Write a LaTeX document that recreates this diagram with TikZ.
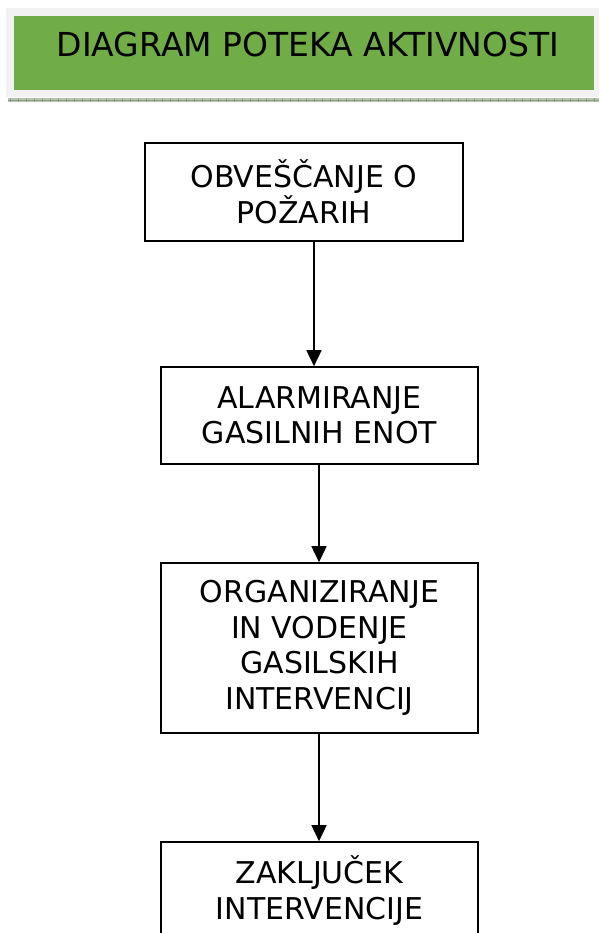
\documentclass[tikz,border=0pt]{standalone}
\usepackage{fontspec}
\setmainfont{DejaVu Sans}
\usetikzlibrary{arrows.meta}
\definecolor{hdrgreen}{HTML}{70AD47}
\definecolor{hdrgray}{HTML}{F2F2F2}
\definecolor{hatchbg}{HTML}{B7C4AE}
\definecolor{hatchtick}{HTML}{8E9C88}
\tikzset{
  stepbox/.style={draw=black, line width=1.6pt, fill=white, align=center,
    inner sep=0pt, font=\fontsize{30}{35.5}\selectfont},
  flowarrow/.style={draw=black, line width=1.6pt, -{Triangle[width=15pt,length=16pt]}},
}
\begin{document}
\begin{tikzpicture}[x=1pt,y=-1pt]
\useasboundingbox (0,0) rectangle (599,933);
\clip (0,0) rectangle (599,933);
% header
\fill[hdrgray] (6,8) rectangle (599,97);
\node[fill=hdrgreen, minimum width=580pt, minimum height=74pt, inner sep=0pt,
  anchor=north west] (bar) at (14,16) {};
\node[anchor=base, inner sep=0pt, font=\fontsize{33}{38}\selectfont] (title)
  at (308,57) {DIAGRAM POTEKA AKTIVNOSTI};
\fill[hatchbg] (8,98) rectangle (599,102);
\foreach \i in {0,...,74} {
  \draw[hatchtick, line width=0.8pt] ({10+8*\i},98) -- ({10+8*\i},102);
}
\draw[hatchtick, line width=0.5pt] (8,100) -- (599,100);
% boxes
\node[stepbox, minimum width=318pt, minimum height=98pt] (b1) at (304,192)
  {OBVEŠČANJE O\\POŽARIH};
\node[stepbox, minimum width=317pt, minimum height=97pt] (b2) at (319.5,415.5)
  {ALARMIRANJE\\GASILNIH ENOT};
\node[stepbox, minimum width=317pt, minimum height=170pt] (b3) at (319.5,648)
  {ORGANIZIRANJE\\IN VODENJE\\GASILSKIH\\INTERVENCIJ};
\node[stepbox, minimum width=317pt, minimum height=97pt] (b4) at (319.5,890.5)
  {ZAKLJUČEK\\INTERVENCIJE};
% connectors
\coordinate (x1) at (314,0);
\coordinate (x2) at (319,0);
\draw[flowarrow] (b1.south -| x1) -- (b2.north -| x1);
\draw[flowarrow] (b2.south -| x2) -- (b3.north -| x2);
\draw[flowarrow] (b3.south -| x2) -- (b4.north -| x2);
\end{tikzpicture}
\end{document}
